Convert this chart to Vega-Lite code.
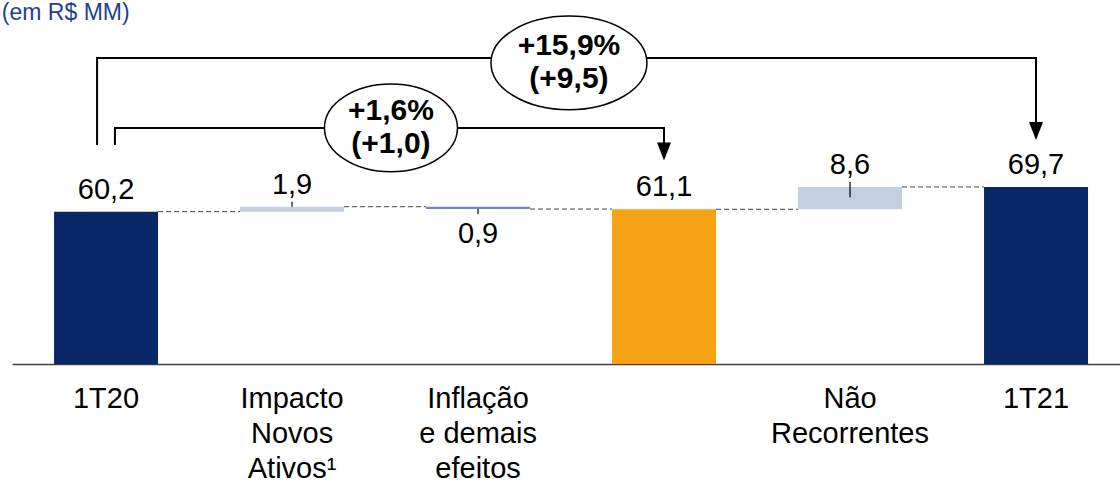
{
  "$schema": "https://vega.github.io/schema/vega-lite/v6.json",
  "width": 1108,
  "height": 364,
  "autosize": "none",
  "padding": {"left": 12, "top": 0, "right": 0, "bottom": 124},
  "background": "white",
  "config": {"view": {"stroke": null}, "font": "Liberation Sans"},
  "datasets": {
    "bars": [
      {"cat": "1T20", "start": 0, "end": 60.2, "type": "total", "label": "60,2", "pos": "above"},
      {"cat": "Impacto|Novos|Ativos¹", "start": 60.2, "end": 62.1, "type": "increase", "label": "1,9", "pos": "above"},
      {"cat": "Inflação|e demais|efeitos", "start": 62.1, "end": 61.2, "type": "decrease", "label": "0,9", "pos": "below"},
      {"cat": " ", "start": 0, "end": 61.1, "type": "subtotal", "label": "61,1", "pos": "above"},
      {"cat": "Não|Recorrentes", "start": 61.1, "end": 69.7, "type": "increase", "label": "8,6", "pos": "above"},
      {"cat": "1T21", "start": 0, "end": 69.7, "type": "total", "label": "69,7", "pos": "above"}
    ],
    "connectors": [
      {"from": "1T20", "to": "Impacto|Novos|Ativos¹", "level": 60.2},
      {"from": "Impacto|Novos|Ativos¹", "to": "Inflação|e demais|efeitos", "level": 62.1},
      {"from": "Inflação|e demais|efeitos", "to": " ", "level": 61.2},
      {"from": " ", "to": "Não|Recorrentes", "level": 61.1},
      {"from": "Não|Recorrentes", "to": "1T21", "level": 69.7}
    ],
    "leaders": [
      {"cat": "Impacto|Novos|Ativos¹", "y1": 62.1, "y2": 64.0},
      {"cat": "Inflação|e demais|efeitos", "y1": 61.2, "y2": 59.3},
      {"cat": "Não|Recorrentes", "y1": 65.7, "y2": 71.7}
    ],
    "brackets": [
      {"g": "total", "o": 1, "ax": -0.048, "ay": 85.8},
      {"g": "total", "o": 2, "ax": -0.048, "ay": 119.3},
      {"g": "total", "o": 3, "ax": 5, "ay": 119.3},
      {"g": "total", "o": 4, "ax": 5, "ay": 94.7},
      {"g": "partial", "o": 1, "ax": 0.048, "ay": 85.8},
      {"g": "partial", "o": 2, "ax": 0.048, "ay": 92.4},
      {"g": "partial", "o": 3, "ax": 3, "ay": 92.4},
      {"g": "partial", "o": 4, "ax": 3, "ay": 86.6}
    ],
    "arrows": [
      {"g": "total", "ax": 5, "ay": 91.2},
      {"g": "partial", "ax": 3, "ay": 83.3}
    ],
    "bubbles": [
      {"g": "total", "ax": 2.489, "ay": 117.4, "text": "+15,9%\n(+9,5)"},
      {"g": "partial", "ax": 1.532, "ay": 92.4, "text": "+1,6%\n(+1,0)"}
    ],
    "notes": [
      {"ax": -0.56, "ay": 136.5, "text": "(em R$ MM)"}
    ]
  },
  "layer": [
    {
      "layer": [
        {
          "data": {"name": "bars"},
          "mark": {"type": "bar", "clip": true},
          "encoding": {
            "x": {
              "field": "cat", "type": "nominal", "sort": null,
              "scale": {"type": "band", "domain": ["1T20", "Impacto|Novos|Ativos¹", "Inflação|e demais|efeitos", " ", "Não|Recorrentes", "1T21"], "paddingInner": 0.4409, "paddingOuter": 0.199, "align": 0.568},
              "axis": {"title": null, "labelExpr": "split(datum.value, '|')", "labelFontSize": 29, "labelColor": "#000000", "labelFont": "Liberation Sans", "labelPadding": 20, "labelLineHeight": 35, "ticks": false, "domainColor": "#404040", "domainWidth": 1.5, "labelAngle": 0, "labelBaseline": "top", "labelOverlap": false, "labelLimit": 400}
            },
            "y": {"field": "start", "type": "quantitative", "scale": {"domain": [1.6, 141.6], "nice": false, "zero": false}, "axis": null},
            "y2": {"field": "end"},
            "color": {"field": "type", "type": "nominal", "scale": {"domain": ["total", "increase", "decrease", "subtotal"], "range": ["#082868", "#c3cee1", "#6b8bbf", "#f5a314"]}, "legend": null}
          }
        },
        {
          "data": {"name": "connectors"},
          "mark": {"type": "rule", "color": "#444444", "strokeWidth": 1, "strokeDash": [5, 3]},
          "encoding": {
            "x": {"field": "from", "type": "nominal", "bandPosition": 1},
            "x2": {"field": "to", "bandPosition": 0},
            "y": {"field": "level", "type": "quantitative", "scale": {"domain": [1.6, 141.6], "nice": false, "zero": false}, "axis": null}
          }
        },
        {
          "data": {"name": "leaders"},
          "mark": {"type": "rule", "color": "#000000", "strokeWidth": 1.2},
          "encoding": {
            "x": {"field": "cat", "type": "nominal"},
            "y": {"field": "y1", "type": "quantitative", "scale": {"domain": [1.6, 141.6], "nice": false, "zero": false}, "axis": null},
            "y2": {"field": "y2"}
          }
        },
        {
          "data": {"name": "bars"},
          "transform": [{"filter": "datum.pos === 'above'"}],
          "mark": {"type": "text", "fontSize": 29, "color": "#000000", "baseline": "alphabetic", "dy": -13},
          "encoding": {
            "x": {"field": "cat", "type": "nominal"},
            "y": {"field": "end", "type": "quantitative", "scale": {"domain": [1.6, 141.6], "nice": false, "zero": false}, "axis": null},
            "text": {"field": "label"}
          }
        },
        {
          "data": {"name": "bars"},
          "transform": [{"filter": "datum.pos === 'below'"}],
          "mark": {"type": "text", "fontSize": 29, "color": "#000000", "baseline": "alphabetic", "dy": 34},
          "encoding": {
            "x": {"field": "cat", "type": "nominal"},
            "y": {"field": "end", "type": "quantitative", "scale": {"domain": [1.6, 141.6], "nice": false, "zero": false}, "axis": null},
            "text": {"field": "label"}
          }
        }
      ]
    },
    {
      "layer": [
        {
          "data": {"name": "brackets"},
          "mark": {"type": "line", "color": "#000000", "strokeWidth": 2},
          "encoding": {
            "x": {"field": "ax", "type": "quantitative", "scale": {"domain": [-0.5054, 5.4516], "nice": false, "zero": false}, "axis": null},
            "y": {"field": "ay", "type": "quantitative", "scale": {"domain": [1.6, 141.6], "nice": false, "zero": false}, "axis": null},
            "detail": {"field": "g"},
            "order": {"field": "o"}
          }
        },
        {
          "data": {"name": "arrows"},
          "mark": {"type": "point", "shape": "M-0.78,-1L0.78,-1L0,1Z", "size": 324, "filled": true, "color": "#000000", "opacity": 1},
          "encoding": {
            "x": {"field": "ax", "type": "quantitative"},
            "y": {"field": "ay", "type": "quantitative"}
          }
        },
        {
          "data": {"name": "bubbles"},
          "transform": [{"filter": "datum.g === 'total'"}],
          "mark": {"type": "point", "shape": "M-1,0A1,0.6,0,1,1,1,0A1,0.6,0,1,1,-1,0Z", "size": 24336, "filled": true, "fill": "#ffffff", "stroke": "#000000", "strokeWidth": 1.5, "opacity": 1},
          "encoding": {
            "x": {"field": "ax", "type": "quantitative"},
            "y": {"field": "ay", "type": "quantitative"}
          }
        },
        {
          "data": {"name": "bubbles"},
          "transform": [{"filter": "datum.g === 'partial'"}],
          "mark": {"type": "point", "shape": "M-1,0A1,0.66,0,1,1,1,0A1,0.66,0,1,1,-1,0Z", "size": 17689, "filled": true, "fill": "#ffffff", "stroke": "#000000", "strokeWidth": 1.5, "opacity": 1},
          "encoding": {
            "x": {"field": "ax", "type": "quantitative"},
            "y": {"field": "ay", "type": "quantitative"}
          }
        },
        {
          "data": {"name": "bubbles"},
          "mark": {"type": "text", "fontSize": 30, "fontWeight": "bold", "lineBreak": "\n", "lineHeight": 33, "baseline": "middle", "dy": -16.5, "color": "#000000"},
          "encoding": {
            "x": {"field": "ax", "type": "quantitative"},
            "y": {"field": "ay", "type": "quantitative"},
            "text": {"field": "text"}
          }
        },
        {
          "data": {"name": "notes"},
          "mark": {"type": "text", "fontSize": 23, "align": "left", "baseline": "middle", "color": "#1f3e96"},
          "encoding": {
            "x": {"field": "ax", "type": "quantitative"},
            "y": {"field": "ay", "type": "quantitative"},
            "text": {"field": "text"}
          }
        }
      ]
    }
  ],
  "resolve": {"scale": {"x": "independent"}}
}
